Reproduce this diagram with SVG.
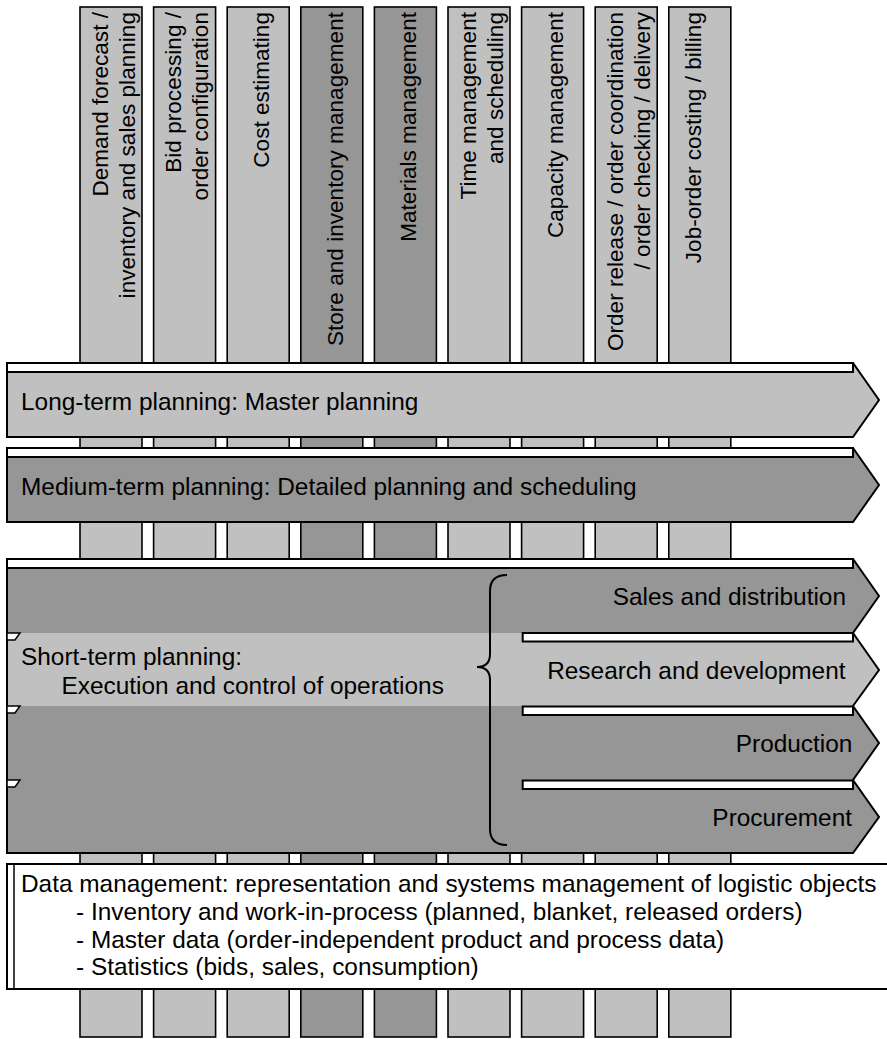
<svg xmlns="http://www.w3.org/2000/svg" width="887" height="1039" viewBox="0 0 887 1039">
<style>
text { font-family: "Liberation Sans", Arial, sans-serif; fill: #000; }
.h { font-size: 24.4px; }
.he { font-size: 24.4px; text-anchor: end; }
.v { font-size: 22.6px; text-anchor: end; }
.col { stroke: #000; stroke-width: 1.6; }
.lt { fill: #C0C0C0; }
.dk { fill: #969696; }
.ol { stroke: #000; stroke-width: 2; stroke-linejoin: miter; }
.strip { fill: #fff; stroke: #000; stroke-width: 2; }
.tiny { fill: #fff; stroke: #000; stroke-width: 1.5; }
</style>
<rect x="0" y="0" width="887" height="1039" fill="#fff"/>
<g id="columns">
  <g id="col-demand">
    <rect class="col lt" x="80" y="7" width="62" height="1030"/>
    <text class="v" transform="translate(107.5,12) rotate(-90)">Demand forecast /</text>
    <text class="v" transform="translate(134.5,12) rotate(-90)">inventory and sales planning</text>
  </g>
  <g id="col-bid">
    <rect class="col lt" x="153.6" y="7" width="62" height="1030"/>
    <text class="v" transform="translate(180.5,12) rotate(-90)">Bid processing /</text>
    <text class="v" transform="translate(207.5,12) rotate(-90)">order configuration</text>
  </g>
  <g id="col-cost">
    <rect class="col lt" x="227.2" y="7" width="62" height="1030"/>
    <text class="v" transform="translate(268.5,12) rotate(-90)">Cost estimating</text>
  </g>
  <g id="col-store">
    <rect class="col dk" x="300.8" y="7" width="62" height="1030"/>
    <text class="v" transform="translate(342.5,12) rotate(-90)">Store and inventory management</text>
  </g>
  <g id="col-materials">
    <rect class="col dk" x="374.4" y="7" width="62" height="1030"/>
    <text class="v" transform="translate(415.5,12) rotate(-90)">Materials management</text>
  </g>
  <g id="col-time">
    <rect class="col lt" x="448" y="7" width="62" height="1030"/>
    <text class="v" transform="translate(475.5,12) rotate(-90)">Time management</text>
    <text class="v" transform="translate(503,12) rotate(-90)">and scheduling</text>
  </g>
  <g id="col-capacity">
    <rect class="col lt" x="521.6" y="7" width="62" height="1030"/>
    <text class="v" transform="translate(562.5,12) rotate(-90)">Capacity management</text>
  </g>
  <g id="col-order">
    <rect class="col lt" x="595.2" y="7" width="62" height="1030"/>
    <text class="v" transform="translate(622.5,12) rotate(-90)">Order release / order coordination</text>
    <text class="v" transform="translate(650,12) rotate(-90)">/ order checking / delivery</text>
  </g>
  <g id="col-joborder">
    <rect class="col lt" x="668.8" y="7" width="62" height="1030"/>
    <text class="v" transform="translate(700.5,12) rotate(-90)">Job-order costing / billing</text>
  </g>
</g>
<g id="long-term">
  <polygon class="lt ol" points="7,363 853,363 879,400 853,437 7,437"/>
  <rect class="strip" x="7" y="363" width="846" height="9"/>
  <text class="h" x="21" y="410">Long-term planning: Master planning</text>
</g>
<g id="medium-term">
  <polygon class="dk ol" points="7,448 853,448 879,485 853,522 7,522"/>
  <rect class="strip" x="7" y="448" width="846" height="9"/>
  <text class="h" x="21" y="495">Medium-term planning: Detailed planning and scheduling</text>
</g>
<g id="short-term">
  <polygon class="dk" points="7,559 853,559 879,596 853,633 879,670 853,706 879,743 853,780 879,817 853,853 7,853"/>
  <polygon class="lt" points="7,633 853,633 879,670 853,706 7,706"/>
  <polygon class="ol" fill="none" points="7,559 853,559 879,596 853,633 879,670 853,706 879,743 853,780 879,817 853,853 7,853"/>
  <rect class="strip" x="7" y="559" width="846" height="9"/>
  <polygon class="tiny" points="7,633 20,633 15,640 7,640"/>
  <polygon class="tiny" points="7,706 20,706 15,713 7,713"/>
  <polygon class="tiny" points="7,780 20,780 15,787 7,787"/>
  <text class="h" x="21" y="665">Short-term planning:</text>
  <text class="h" x="61.5" y="694">Execution and control of operations</text>
</g>
<g id="sales">
  <text class="he" x="846" y="605">Sales and distribution</text>
</g>
<g id="research">
  <rect class="strip" x="522.7" y="633" width="330.3" height="8.5"/>
  <text class="he" x="845.5" y="679">Research and development</text>
</g>
<g id="production">
  <rect class="strip" x="522.7" y="706.5" width="330.3" height="8.5"/>
  <text class="he" x="852.4" y="752">Production</text>
</g>
<g id="procurement">
  <rect class="strip" x="522.7" y="780.5" width="330.3" height="8.5"/>
  <text class="he" x="852" y="826">Procurement</text>
</g>
<g id="connectors">
  <path d="M507,575 C496,575 490,580 490,591 L490,654 C490,663 485,667 477,667 C485,667 490,671 490,680 L490,829 C490,840 496,845 507,845" fill="none" stroke="#000" stroke-width="2"/>
</g>
<g id="data-management">
  <rect x="7" y="864" width="890" height="125" fill="#fff" stroke="#000" stroke-width="2"/>
  <line x1="14" y1="864" x2="14" y2="989" stroke="#000" stroke-width="1.5"/>
  <text class="h" x="21" y="892">Data management: representation and systems management of logistic objects</text>
  <text class="h" x="76" y="920">- Inventory and work-in-process (planned, blanket, released orders)</text>
  <text class="h" x="76" y="947.5">- Master data (order-independent product and process data)</text>
  <text class="h" x="76" y="975">- Statistics (bids, sales, consumption)</text>
</g>
</svg>
